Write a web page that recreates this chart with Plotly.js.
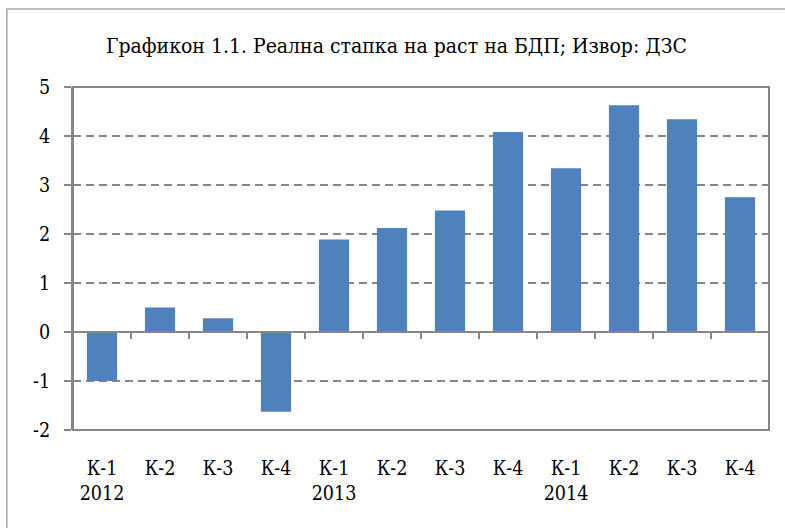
<!DOCTYPE html>
<html><head><meta charset="utf-8">
<script src="https://cdn.plot.ly/plotly-3.0.1.min.js"></script>
<style>body{margin:0;background:#fff}#c{width:785px;height:528px}</style>
</head><body><div id="c"></div>
<script>
const quarters = ["К-1","К-2","К-3","К-4","К-1","К-2","К-3","К-4","К-1","К-2","К-3","К-4"];
const years = ["2012","","","","2013","","","","2014","","",""];
const growth = [-1.0, 0.50, 0.28, -1.63, 1.89, 2.12, 2.48, 4.08, 3.34, 4.63, 4.34, 2.75];
const yTicks = [-2,-1,0,1,2,3,4,5];
const yTickText = ["-2","-1","0","1","2","3","4","5"];

const idx = quarters.map((q,i)=>i);
const labels = quarters.map((q,i)=> years[i] ? q + "<br>" + years[i] : q);
const FONT = "DejaVu Serif Condensed";
const GRAY = "#868686";

const data = [{
  type: "bar", x: idx, y: growth, marker: {color: "#4F81BD"},
  hoverinfo: "y"
},{
  type: "scatter", x: [0], y: [0], xaxis: "x2", mode: "markers",
  marker: {opacity: 0}, hoverinfo: "skip", showlegend: false
}];

const layout = {
  width: 785, height: 528,
  margin: {l: 73, r: 16, t: 87, b: 98},
  paper_bgcolor: "#fff", plot_bgcolor: "#fff",
  showlegend: false,
  bargap: 0.48,
  font: {family: FONT, size: 19.5, color: "#000"},
  title: {text: "Графикон 1.1. Реална стапка на раст на БДП; Извор: ДЗС",
          x: 0.505, xanchor: "center", y: 0.913, yanchor: "middle",
          font: {family: FONT, size: 21, color: "#000"}},
  xaxis: {
    range: [-0.5, 11.5], tickmode: "array", tickvals: idx, ticktext: labels,
    showline: false, showgrid: false, zeroline: false, ticks: "",
    ticklabelstandoff: 24, tickfont: {family: FONT, size: 19.5, color: "#000"}
  },
  xaxis2: {
    overlaying: "x", anchor: "free", position: 2/7,
    range: [-0.5, 11.5], tickmode: "array",
    tickvals: [0.5,1.5,2.5,3.5,4.5,5.5,6.5,7.5,8.5,9.5,10.5],
    showticklabels: false, ticks: "outside", ticklen: 6, tickwidth: 1.5, tickcolor: GRAY,
    showline: true, linecolor: GRAY, linewidth: 2, showgrid: false, zeroline: false
  },
  yaxis: {
    range: [-2, 5], tickmode: "array", tickvals: yTicks, ticktext: yTickText,
    showline: true, linecolor: GRAY, linewidth: 2,
    ticks: "outside", ticklen: 7, tickwidth: 1.5, tickcolor: GRAY,
    showgrid: true, gridcolor: GRAY, gridwidth: 1.5, griddash: "8px,5px",
    zeroline: false, ticklabelstandoff: 10, tickfont: {family: FONT, size: 19.5, color: "#000"}
  },
  shapes: [
    {type: "rect", xref: "paper", yref: "paper", x0: 0, x1: 1, y0: 0, y1: 1,
     line: {color: GRAY, width: 2}, layer: "above"},
    {type: "rect", xref: "paper", yref: "paper", x0: -0.095, x1: 1.2, y0: -0.6, y1: 1.2274,
     line: {color: "#a6a6a6", width: 1.5}}
  ]
};
Plotly.newPlot("c", data, layout, {displayModeBar: false, staticPlot: true});
</script></body></html>
